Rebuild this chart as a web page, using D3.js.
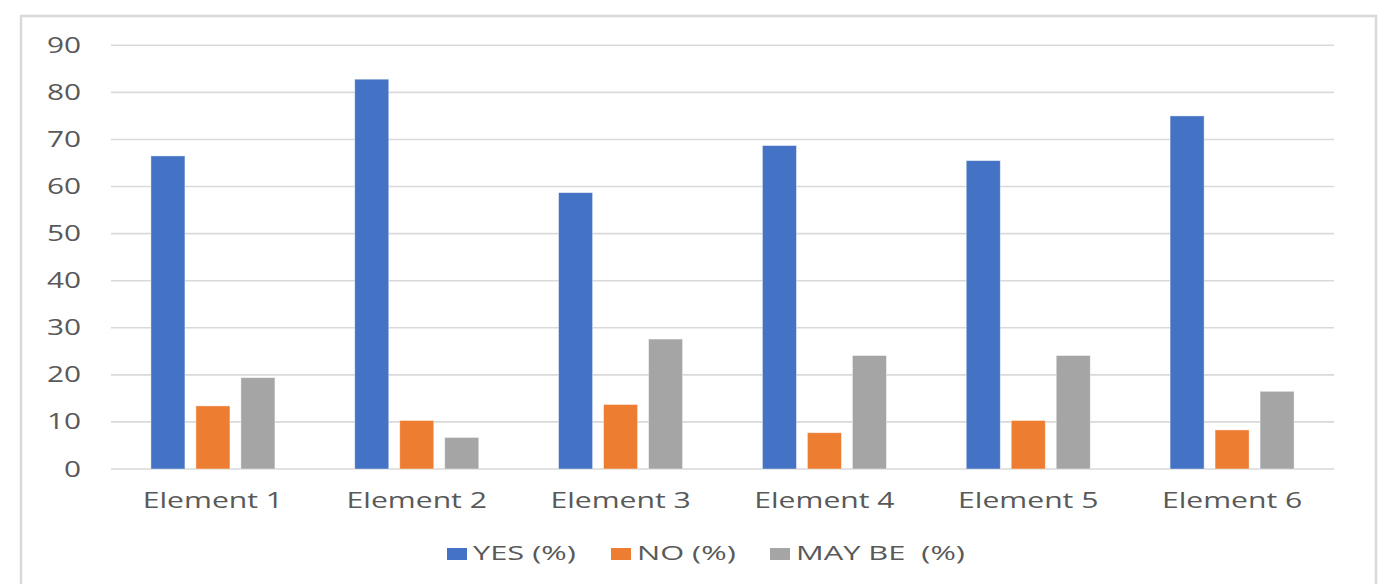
<!DOCTYPE html>
<html><head><meta charset="utf-8">
<script src="https://cdn.jsdelivr.net/npm/d3@7"></script>
<style>body{margin:0;background:#fff;}svg{display:block;}</style>
</head><body>
<script>
const categories = ["Element 1","Element 2","Element 3","Element 4","Element 5","Element 6"];
const seriesNames = ["YES (%)","NO (%)","MAY BE  (%)"];
const yesValues = [66.5, 82.8, 58.7, 68.7, 65.5, 75.0];
const noValues = [13.4, 10.3, 13.7, 7.7, 10.3, 8.3];
const maybeValues = [19.4, 6.7, 27.6, 24.1, 24.1, 16.5];
const yTicks = [0,10,20,30,40,50,60,70,80,90];
const colors = ["#4472C4","#ED7D31","#A5A5A5"];

const W = 1390, H = 584;
const svg = d3.select("body").append("svg").attr("width", W).attr("height", H);

svg.append("rect").attr("x",21).attr("y",16).attr("width",1355).attr("height",600)
  .attr("fill","#fff").attr("stroke","#d9d9d9").attr("stroke-width",2.5);

const x0 = d3.scaleBand().domain(categories).range([111,1334]).padding(0);
const groupW = 124;
const x1 = d3.scaleBand().domain(seriesNames).range([0,groupW]).paddingInner(0.244).paddingOuter(0);
const y = d3.scaleLinear().domain([0,90]).range([469,45.3]);

const seriesData = [yesValues, noValues, maybeValues];

// gridlines
svg.append("g").selectAll("line").data(yTicks).join("line")
  .attr("x1",111).attr("x2",1334)
  .attr("y1",d=>y(d)).attr("y2",d=>y(d))
  .attr("stroke","#d9d9d9").attr("stroke-width",1.6);

function stretchedText(g, x, yy, txt, anchor, size, sx){
  return g.append("text").attr("transform",`translate(${x},${yy}) scale(${sx},1)`)
    .attr("text-anchor",anchor).attr("font-family","'Open Sans', sans-serif")
    .attr("font-size",size).attr("fill","#595959").style("white-space","pre").text(txt);
}

// y tick labels
const yAxisG = svg.append("g");
yTicks.forEach(v => stretchedText(yAxisG, 81, y(v)+7.5, String(v), "end", 21, 1.42));

// bars
const gBars = svg.append("g");
seriesData.forEach((vals, si) => {
  gBars.append("g").selectAll("rect").data(vals).join("rect")
    .attr("x",(d,i)=> x0(categories[i]) + x0.bandwidth()/2 - groupW/2 + x1(seriesNames[si]))
    .attr("y",d=>y(d))
    .attr("width",x1.bandwidth())
    .attr("height",d=>y(0)-y(d))
    .attr("fill",colors[si])
    .attr("stroke","#ffffff").attr("stroke-opacity",0.5).attr("stroke-width",0.8);
});

// x labels
const xAxisG = svg.append("g");
categories.forEach(c => stretchedText(xAxisG, x0(c)+x0.bandwidth()/2, 508.3, c, "middle", 22, 1.37));

// legend
const legendX = [447, 611, 770];
const lg = svg.append("g");
seriesNames.forEach((s,i)=>{
  lg.append("rect").attr("x",legendX[i]).attr("y",548).attr("width",20).attr("height",12).attr("fill",colors[i]);
  stretchedText(lg, legendX[i]+26, 560, s, "start", 20, 1.54);
});
</script>
</body></html>
